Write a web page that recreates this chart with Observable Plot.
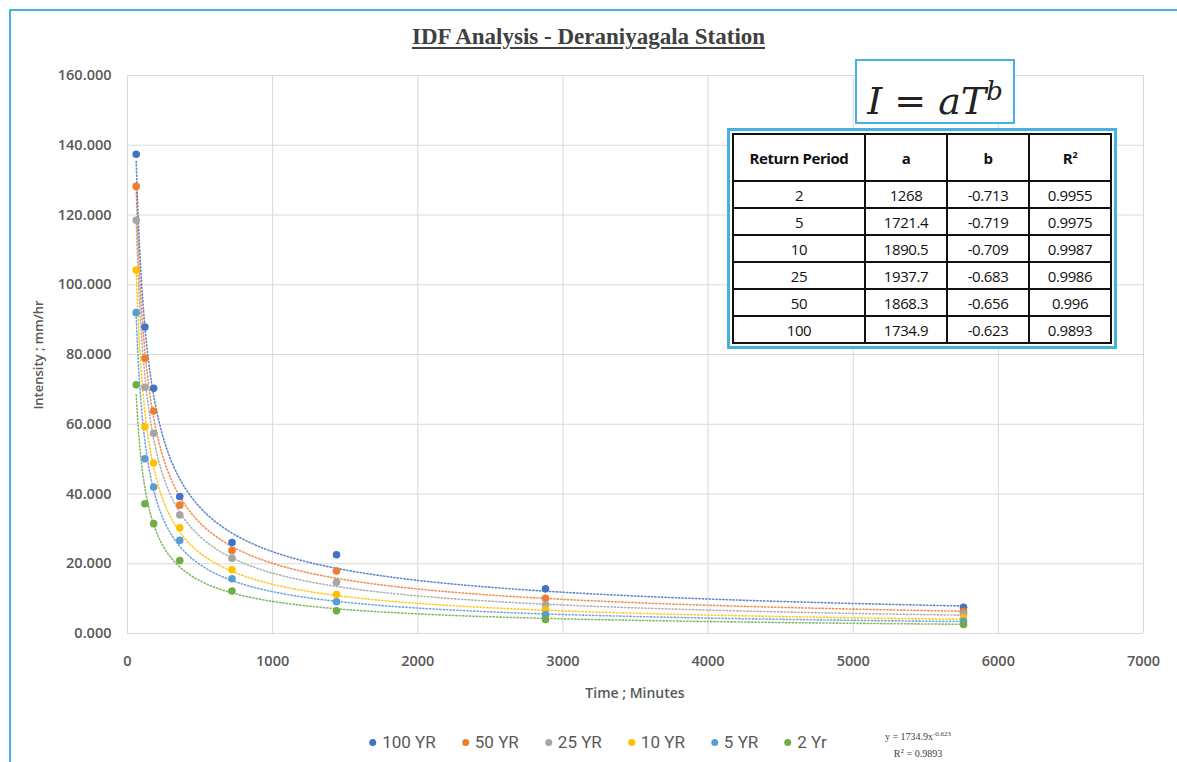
<!DOCTYPE html>
<html>
<head>
<meta charset="utf-8">
<script src="https://cdn.jsdelivr.net/npm/d3@7"></script>
<script src="https://cdn.jsdelivr.net/npm/@observablehq/plot@0.6"></script>
<style>
  body { margin: 0; background: #fff; }
  #wrap { position: relative; width: 1177px; height: 762px; overflow: hidden; background: #fff; font-family: "Open Sans", "Noto Sans", sans-serif; }
  #frame { position: absolute; left: 9px; top: 9px; width: 1200px; height: 800px; border: 2px solid #45b3de; box-sizing: border-box; }
  #chart { position: absolute; left: 0; top: 0; }
  .ovl { position: absolute; white-space: nowrap; color: #595959; }
  #title { left: 0; width: 1177px; top: 24px; text-align: center; font-family: "Liberation Serif", "DejaVu Serif", serif; font-weight: bold; font-size: 23px; color: #404040; }
  #title span { text-decoration: underline; text-underline-offset: 3px; }
  #ylab { left: 38px; top: 355px; transform: translate(-50%, -50%) rotate(-90deg); font-size: 13px; font-weight: 600; }
  #xlab { left: 635px; top: 692px; transform: translate(-50%, -50%); font-size: 14px; font-weight: 600; }
  #legend { left: 598px; top: 742px; transform: translate(-50%, -50%); font-family: "Roboto", sans-serif; font-size: 17px; display: flex; gap: 26px; }
  #legend .it { display: flex; align-items: center; gap: 6px; }
  #legend .dot { width: 7px; height: 7px; border-radius: 50%; display: inline-block; }
  #trend { left: 918px; top: 727px; font-family: "Liberation Serif", serif; font-size: 10px; text-align: center; transform: translateX(-50%); line-height: 14px; color: #404040; }
  #eqbox { left: 855px; top: 59px; width: 160px; height: 65px; border: 2px solid #45b3de; box-sizing: border-box; background: #fff; font-family: "DejaVu Serif", "Liberation Serif", serif; font-style: italic; font-size: 38px; color: #222; text-align: center; line-height: 60px; }
  #eqbox sup { font-size: 26px; vertical-align: 14px; }
  #tablebox { left: 727px; top: 128px; border: 3px solid #45b3de; background: #fff; padding: 2px; }
  table { border-collapse: collapse; font-family: "Open Sans", "Noto Sans", sans-serif; font-size: 15px; color: #111; letter-spacing: -0.4px; }
  td, th { border: 2px solid #111; text-align: center; padding: 0; height: 25px; }
  th { height: 45px; font-weight: bold; }
</style>
</head>
<body>
<div id="wrap">
  <div id="chart"></div>
  <div id="frame"></div>
  <div class="ovl" id="title"><span>IDF Analysis - Deraniyagala Station</span></div>
  <div class="ovl" id="ylab">Intensity ; mm/hr</div>
  <div class="ovl" id="xlab">Time ; Minutes</div>
  <div class="ovl" id="legend"></div>
  <div class="ovl" id="trend">y = 1734.9x<sup style="font-size:7px">-0.623</sup><br>R<sup style="font-size:7px">2</sup> = 0.9893</div>
  <div class="ovl" id="eqbox">I = aT<sup>b</sup></div>
  <div class="ovl" id="tablebox"></div>
</div>
<script>
// Durations (minutes)
const durations = [60, 120, 180, 360, 720, 1440, 2880, 5760];
// Series names (legend order) and colours
const seriesNames = ["100 YR", "50 YR", "25 YR", "10 YR", "5 YR", "2 Yr"];
const seriesColors = ["#4472C4", "#ED7D31", "#A5A5A5", "#FFC000", "#5B9BD5", "#70AD47"];
// Intensities (mm/hr)
const i100 = [137.4, 87.9, 70.3, 39.3, 26.1, 22.6, 12.8, 7.5];
const i50  = [128.2, 78.9, 63.8, 36.8, 23.8, 17.9, 10.1, 6.4];
const i25  = [118.5, 70.6, 57.4, 34.0, 21.6, 14.7, 8.2, 5.6];
const i10  = [104.2, 59.3, 48.9, 30.3, 18.3, 11.2, 6.9, 4.5];
const i5   = [92.0, 50.1, 42.0, 26.7, 15.7, 9.1, 5.4, 3.5];
const i2   = [71.3, 37.2, 31.5, 20.9, 12.2, 6.5, 4.0, 2.6];
const seriesValues = [i100, i50, i25, i10, i5, i2];

// Fit table (I = a T^b)
const returnPeriods = [2, 5, 10, 25, 50, 100];
const fitA = [1268, 1721.4, 1890.5, 1937.7, 1868.3, 1734.9];
const fitB = [-0.713, -0.719, -0.709, -0.683, -0.656, -0.623];
const fitR2 = [0.9955, 0.9975, 0.9987, 0.9986, 0.996, 0.9893];
const fitSeries = ["2 Yr", "5 YR", "10 YR", "25 YR", "50 YR", "100 YR"];

// Axis ticks
const xTicks = [0, 1000, 2000, 3000, 4000, 5000, 6000, 7000];
const yTicks = [0, 20, 40, 60, 80, 100, 120, 140, 160];

const points = [];
seriesNames.forEach((s, k) => durations.forEach((t, j) => points.push({series: s, t, v: seriesValues[k][j]})));

// Power trendlines drawn from the fitted a, b of the table
const curveT = d3.range(60, 5761, 10);
const curves = [];
fitSeries.forEach((s, k) => curveT.forEach(t => curves.push({series: s, t, v: fitA[k] * Math.pow(t, fitB[k])})));

const W = 1177, H = 700;
const chart = Plot.plot({
  width: W, height: H,
  marginLeft: 127, marginRight: 34, marginTop: 75, marginBottom: 67,
  style: {fontFamily: "'Open Sans', 'Noto Sans', sans-serif", fontSize: "14.5px", color: "#595959", background: "transparent"},
  x: {domain: [0, 7000], ticks: xTicks, tickFormat: d3.format("d"), label: null, tickSize: 0, tickPadding: 22},
  y: {domain: [0, 160], ticks: yTicks, tickFormat: d3.format(".3f"), label: null, tickSize: 0, tickPadding: 16},
  color: {domain: seriesNames, range: seriesColors},
  marks: [
    Plot.gridX(xTicks, {stroke: "#d9d9d9", strokeOpacity: 1, strokeWidth: 1}),
    Plot.gridY(yTicks, {stroke: "#d9d9d9", strokeOpacity: 1, strokeWidth: 1}),
    Plot.axisX({ticks: xTicks, tickFormat: d3.format("d"), tickSize: 0, tickPadding: 22, fontWeight: 600, label: null}),
    Plot.axisY({ticks: yTicks, tickFormat: d3.format(".3f"), tickSize: 0, tickPadding: 16, fontWeight: 600, label: null}),
    Plot.line(curves, {x: "t", y: "v", z: "series", stroke: "series", strokeWidth: 1.6, strokeDasharray: "1.2,2.2", strokeOpacity: 0.85}),
    Plot.dot(points, {x: "t", y: "v", fill: "series", r: 3.8, stroke: "none"})
  ]
});
document.getElementById("chart").appendChild(chart);

// Legend
const leg = document.getElementById("legend");
seriesNames.forEach((s, k) => {
  const it = document.createElement("div");
  it.className = "it";
  it.innerHTML = `<span class="dot" style="background:${seriesColors[k]}"></span><span>${s}</span>`;
  leg.appendChild(it);
});

// Table
const tbl = document.createElement("table");
const widths = [130, 80, 80, 80];
let html = "<tr>" + ["Return Period", "a", "b", "R<sup style='font-size:9px'>2</sup>"].map((h, i) => `<th style="width:${widths[i]}px">${h}</th>`).join("") + "</tr>";
returnPeriods.forEach((rp, k) => {
  html += `<tr><td>${rp}</td><td>${fitA[k]}</td><td>${fitB[k]}</td><td>${fitR2[k]}</td></tr>`;
});
tbl.innerHTML = html;
document.getElementById("tablebox").appendChild(tbl);
</script>
</body>
</html>
